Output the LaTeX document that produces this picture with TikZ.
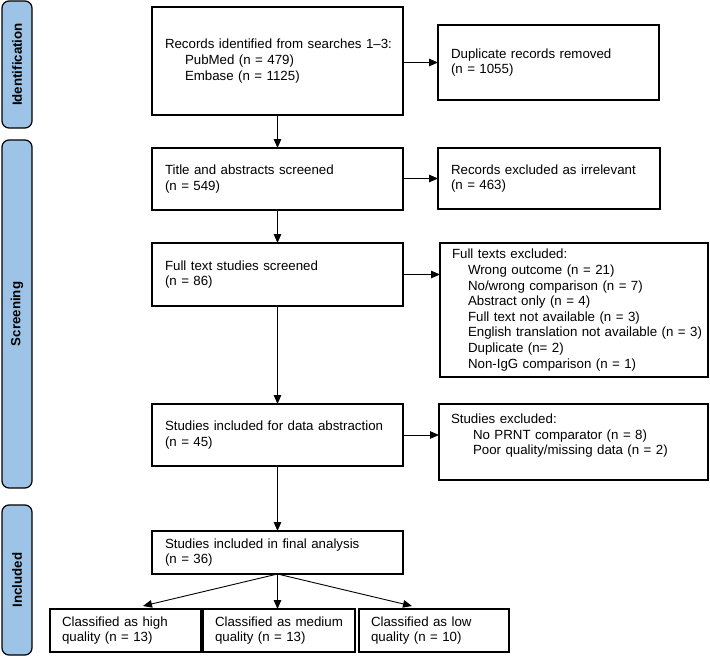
\documentclass[tikz,border=0pt]{standalone}
\usepackage{fontspec}
\setmainfont{Liberation Sans}
\usetikzlibrary{arrows.meta,calc}
\definecolor{barblue}{HTML}{9DC3E6}
\begin{document}
\begin{tikzpicture}[x=1pt,y=-1pt,
  box/.style={draw, line width=1.2pt, align=left, anchor=north west, outer sep=0pt,
    inner ysep=0pt, font=\fontsize{13.3}{15.6}\selectfont,
    execute at begin node={\exhyphenpenalty=10000\hyphenpenalty=10000}},
  bar/.style={draw, line width=1.2pt, fill=barblue, rounded corners=7pt},
  barlabel/.style={rotate=90, font=\fontsize{13.3}{15.6}\selectfont\bfseries},
  arr/.style={line width=0.9pt, -{Triangle[length=9pt,width=7.5pt]}}]
\useasboundingbox (0,0) rectangle (710,656);
% side bars
\draw[bar] (2,1) rectangle (32,128);
\node[barlabel] (lid) at (17,64.5) {Identification};
\draw[bar] (2,140) rectangle (32,488);
\node[barlabel] (lsc) at (17,314) {Screening};
\draw[bar] (2,505) rectangle (32,655);
\node[barlabel] (lin) at (17,580) {Included};
% main boxes
\newcommand{\ind}[1]{\hspace*{#1pt}}
\node[box, text width=235pt, inner xsep=8pt, minimum height=108pt] (rec) at (152,7)
  {\ind{5}Records identified from searches 1--3:\\\ind{25}PubMed (n = 479)\\\ind{25}Embase (n = 1125)};
\node[box, text width=195pt, inner xsep=13pt, minimum height=75pt] (dup) at (438,25)
  {Duplicate records removed\\(n = 1055)};
\node[box, text width=225pt, inner xsep=13pt, minimum height=62pt] (title) at (152,148)
  {Title and abstracts screened\\(n = 549)};
\node[box, text width=196pt, inner xsep=13pt, minimum height=61pt] (ex1) at (438,148)
  {Records excluded as irrelevant\\(n = 463)};
\node[box, text width=225pt, inner xsep=13pt, minimum height=63pt] (full) at (152,243)
  {Full text studies screened\\(n = 86)};
\node[box, text width=256pt, inner xsep=6pt, minimum height=134pt] (ex2) at (440,243)
  {\ind{6}Full texts excluded:\\\ind{22}Wrong outcome (n = 21)\\\ind{22}No/wrong comparison (n = 7)\\\ind{22}Abstract only (n = 4)\\\ind{22}Full text not available (n = 3)\\\ind{22}English translation not available (n = 3)\\\ind{22}Duplicate (n= 2)\\\ind{22}Non-IgG comparison (n = 1)};
\node[box, text width=225pt, inner xsep=13pt, minimum height=62pt] (abs) at (152,404)
  {Studies included for data abstraction\\(n = 45)};
\node[box, text width=245pt, inner xsep=12pt, minimum height=76pt] (ex3) at (439,404)
  {Studies excluded:\\\ind{22}No PRNT comparator (n = 8)\\\ind{22}Poor quality/missing data (n = 2)\\[0pt]\mbox{}};
\node[box, text width=225pt, inner xsep=13pt, minimum height=43pt] (fin) at (152,531)
  {Studies included in final analysis\\(n = 36)};
\node[box, text width=127pt, inner xsep=12pt, minimum height=43pt] (q1) at (50,609)
  {Classified as high\\quality (n = 13)};
\node[box, text width=128pt, inner xsep=12pt, minimum height=43pt] (q2) at (203,609)
  {Classified as medium\\quality (n = 13)};
\node[box, text width=126pt, inner xsep=12pt, minimum height=43pt] (q3) at (359,609)
  {Classified as low\\quality (n = 10)};
% connectors
\draw[arr] (rec.south) -- (title.north);
\draw[arr] (title.south) -- (full.north);
\draw[arr] (full.south) -- (abs.north);
\draw[arr] (abs.south) -- (fin.north);
\draw[arr] (rec.east |- dup.west) -- (dup.west);
\draw[arr] (title.east |- ex1.west) -- (ex1.west);
\draw[arr] (full.east) -- (full.east -| ex2.west);
\draw[arr] (abs.east) -- (abs.east -| ex3.west);
\coordinate (t1) at (143,606);
\coordinate (t3) at (412,606);
\draw[arr] (fin.south) -- (t1);
\draw[arr] (fin.south) -- (q2.north -| fin.south);
\draw[arr] (fin.south) -- (t3);
\end{tikzpicture}
\end{document}
